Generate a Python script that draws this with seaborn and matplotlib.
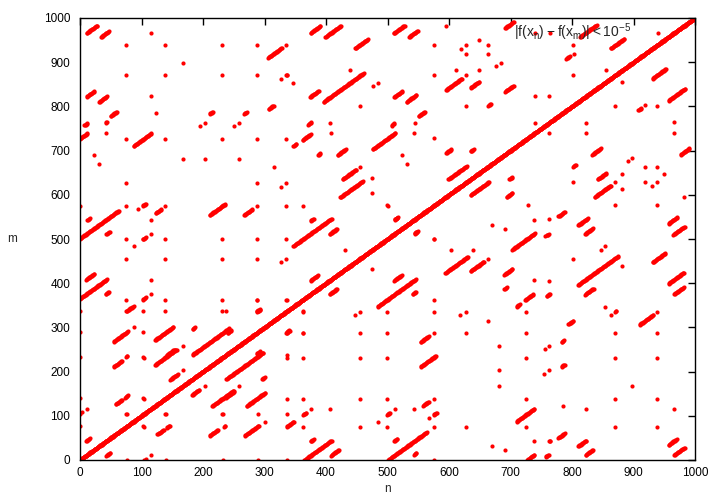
import matplotlib
matplotlib.use("Agg")
import matplotlib.pyplot as plt
import seaborn as sns
import pandas as pd

# recurrence runs above the main diagonal (start n, start m, run length)
seg_n0 = [11, 34, 11, 31, 50, 211, 7, 42, 0, 87, 102, 123, 211, 12, 0, 43, 102,
          10, 0, 42, 102, 75, 55, 122, 183, 141, 183, 75, 55, 122, 147, 58, 73, 10,
          375, 399, 306, 447, 335, 374, 396, 267, 307, 371,
          510, 535, 691, 595, 635, 691, 511, 531, 664, 551, 508,
          813, 791, 863, 362, 347, 476, 387, 419, 427, 423, 267, 375, 347, 406,
          512, 545, 595, 635, 599, 375, 287, 335, 287]
seg_m0 = [966, 957, 822, 810, 778, 783, 757, 763, 727, 710, 575, 558, 554, 543, 501, 511, 499,
          408, 365, 375, 363, 336, 268, 271, 296, 237, 238, 234, 211, 215, 182, 126, 141, 43,
          966, 957, 910, 931, 870, 821, 810, 783, 794, 759,
          965, 957, 977, 837, 842, 833, 821, 810, 802, 778, 759,
          957, 908, 931, 724, 710, 703, 690, 690, 635, 594, 554, 541, 484, 511,
          544, 513, 694, 698, 635, 406, 336, 288, 240]
seg_len = [17, 13, 12, 13, 10, 5, 5, 2, 12, 29, 5, 9, 25, 4, 63, 5, 5,
           13, 44, 5, 5, 12, 23, 30, 4, 13, 60, 2, 13, 35, 12, 10, 5, 6,
           16, 25, 22, 21, 2, 14, 65, 4, 8, 5,
           18, 14, 14, 26, 14, 14, 13, 16, 4, 10, 3,
           27, 5, 22, 13, 5, 37, 4, 13, 22, 37, 13, 5, 62, 12,
           4, 4, 9, 5, 30, 12, 5, 5, 6]

# isolated recurrences above the main diagonal
pt_n = [115, 75, 139, 231, 167, 75, 139, 231, 115, 123, 195, 203, 251,
        43, 75, 139, 231, 23, 31, 167, 203, 75, 0, 75, 95, 115, 139, 231, 75, 115, 139, 231,
        87, 75, 139, 231, 115, 75, 115, 139, 231, 0, 103, 139, 231, 0, 87, 103, 167,
        0, 103, 167, 0, 3, 11, 103, 75, 0, 103, 139, 231, 0,
        287, 335, 287, 327, 347, 439, 455, 476, 484, 259, 406,
        595, 576, 620, 628, 628, 648, 664, 664, 676, 684, 576, 612, 628, 648, 740, 740, 740, 628, 545,
        764, 802, 804, 802, 856, 763,
        287, 335, 408, 259, 315, 455, 475, 475, 287, 327, 335, 287, 335, 363, 500, 287, 335,
        507, 543, 576, 523, 531, 576,
        431, 287, 327, 335, 287, 335, 363, 363, 336]
pt_m = [966, 938, 938, 938, 898, 870, 870, 870, 823, 786, 755, 762, 756,
        739, 726, 726, 726, 691, 670, 682, 682, 627, 575, 575, 567, 543, 575, 575, 499, 512, 499, 499,
        484, 455, 455, 455, 407, 363, 375, 363, 363, 336, 336, 336, 336, 289, 300, 289, 259,
        232, 232, 204, 140, 108, 116, 140, 104, 76, 76, 104, 104, 104,
        938, 938, 870, 863, 854, 882, 802, 847, 854, 762, 762,
        982, 938, 930, 938, 918, 950, 938, 918, 891, 898, 870, 882, 870, 882, 823, 762, 966, 802, 763,
        966, 938, 918, 870, 882, 823,
        726, 726, 739, 682, 663, 663, 639, 603, 627, 618, 627, 575, 575, 575, 575, 499, 499,
        756, 739, 728, 691, 670, 499,
        474, 455, 447, 455, 363, 363, 336, 287, 237]

n_max = 1000
label = r'$|\mathrm{f(x_n) - f(x_m)}| < 10^{-5}$'

rows = [(k, k) for k in range(n_max + 1)]
for n0, m0, length in zip(seg_n0, seg_m0, seg_len):
    rows += [(n0 + k, m0 + k) for k in range(length + 1)]
rows += list(zip(pt_n, pt_m))
upper = pd.DataFrame(rows, columns=["n", "m"])
# recurrence is symmetric in n and m
df = pd.concat([upper, upper.rename(columns={"n": "m", "m": "n"})], ignore_index=True)

sns.set_style("white")
plt.rcParams['font.family'] = ['Liberation Sans', 'DejaVu Sans']
plt.rcParams['mathtext.fontset'] = 'custom'
plt.rcParams['mathtext.rm'] = 'Liberation Sans'

fig = plt.figure(figsize=(7.12, 4.96), dpi=100)
ax = fig.add_axes([80 / 712, 1 - 460 / 496, 615 / 712, 442 / 496])
sns.scatterplot(data=df, x="n", y="m", color="#ff0000", s=9, linewidth=0,
                marker="o", ax=ax, label=label)

ax.set_xlim(0, 1000)
ax.set_ylim(0, 1000)
ax.set_xticks(range(0, 1001, 100))
ax.set_yticks(range(0, 1001, 100))
ax.tick_params(direction='in', top=True, right=True, length=5, width=1,
               labelsize=8.5, colors='black')
ax.tick_params(axis='x', pad=5)
ax.tick_params(axis='y', pad=7)
for sp in ax.spines.values():
    sp.set_color('black')
    sp.set_linewidth(1)

ax.set_xlabel('n', fontsize=8.5)
ax.xaxis.set_label_coords(0.5, -0.052)
ax.set_ylabel('m', fontsize=8.5, rotation=0, va='center')
ax.yaxis.set_label_coords(-0.11, 0.5)

ax.legend(loc='center right', bbox_to_anchor=(0.951, 0.968), markerfirst=False,
          frameon=False, fontsize=10, handlelength=1.0, handletextpad=1.4,
          markerscale=1.0, borderaxespad=0, borderpad=0)

fig.savefig("out.png", dpi=100)
